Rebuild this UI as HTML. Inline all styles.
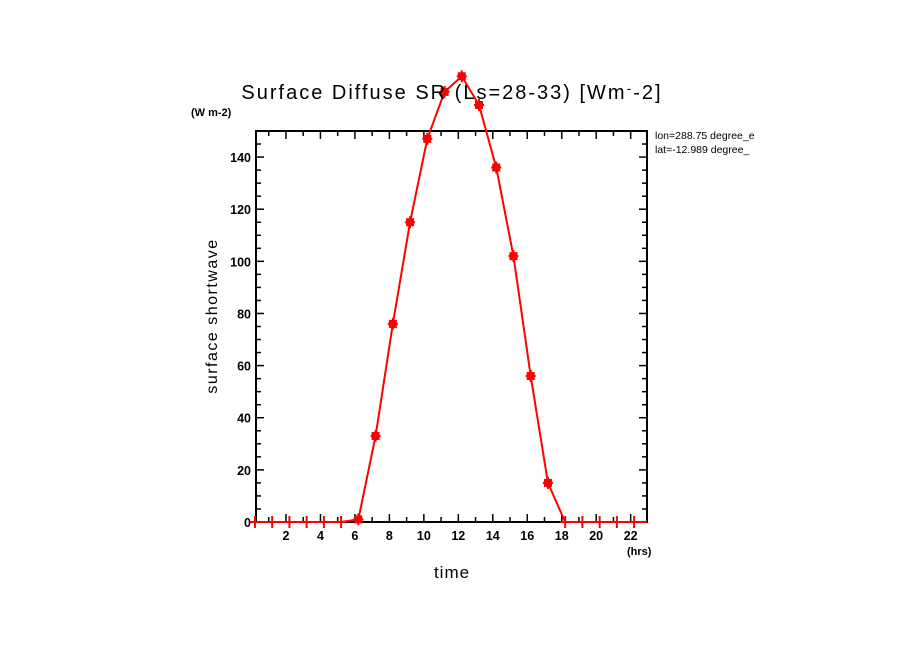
<!DOCTYPE html>
<html><head><meta charset="utf-8"><style>
body{margin:0;background:#fff}
svg{display:block;font-family:"Liberation Sans",sans-serif}
</style></head><body>
<svg width="904" height="654">
<defs><clipPath id="lc"><rect x="650" y="120" width="130" height="40"/></clipPath></defs>
<g id="axes"></g>
<g id="series"></g>
<text x="452" y="99" font-size="20" letter-spacing="2" text-anchor="middle">Surface Diffuse SR (Ls=28-33) [Wm<tspan font-size="14" dy="-6">-</tspan><tspan dy="6">-2]</tspan></text>
<text x="191" y="116" font-size="11" font-weight="bold">(W m-2)</text>
<g clip-path="url(#lc)">
<text x="655" y="139" font-size="10.5">lon=288.75 degree_e</text>
<text x="655" y="153" font-size="10.5">lat=-12.989 degree_</text>
</g>
<text x="627" y="555" font-size="11" font-weight="bold">(hrs)</text>
<text x="452" y="578" font-size="17" letter-spacing="1" text-anchor="middle">time</text>
<text transform="translate(217,316) rotate(-90)" font-size="16" letter-spacing="1.5" text-anchor="middle">surface shortwave</text>
</svg>
<script>
const hours=[0.2,1.2,2.2,3.2,4.2,5.2,6.2,7.2,8.2,9.2,10.2,11.2,12.2,13.2,14.2,15.2,16.2,17.2,18.2,19.2,20.2,21.2,22.2];
const values=[0,0,0,0,0,0,1,33,76,115,147,165,171,160,136,102,56,15,0,0,0,0,0];
const xTickLabels=[2,4,6,8,10,12,14,16,18,20,22];
const yTickLabels=[0,20,40,60,80,100,120,140];
const NS="http://www.w3.org/2000/svg";
const L=256,R=647,T=131,B=522;
const X=h=>251.5+17.235*h;
const Y=v=>B-(v/150)*(B-T);
function mk(t,a,p){const e=document.createElementNS(NS,t);for(const k in a)e.setAttribute(k,a[k]);p.appendChild(e);return e;}
const ax=document.getElementById('axes');
const fr=mk('rect',{x:L,y:T,width:R-L,height:B-T,fill:'none',stroke:'#000','stroke-width':2},ax);


for(let h=1;h<=22;h++){const big=h%2==0;const len=big?8:5;
 mk('line',{x1:X(h),x2:X(h),y1:B,y2:B-len,stroke:'#000','stroke-width':1.5},ax);
 mk('line',{x1:X(h),x2:X(h),y1:T,y2:T+len,stroke:'#000','stroke-width':1.5},ax);}
xTickLabels.forEach(h=>{const t=mk('text',{x:X(h),y:B+18,'font-size':12.5,'font-weight':'bold','text-anchor':'middle'},ax);t.textContent=h;
 
 });
for(let v=5;v<150;v+=5){const big=v%20==0;const len=big?8:5;
 mk('line',{x1:L,x2:L+len,y1:Y(v),y2:Y(v),stroke:'#000','stroke-width':1.5},ax);
 mk('line',{x1:R,x2:R-len,y1:Y(v),y2:Y(v),stroke:'#000','stroke-width':1.5},ax);}
yTickLabels.forEach(v=>{const t=mk('text',{x:L-5,y:Y(v)+5,'font-size':12.5,'font-weight':'bold','text-anchor':'end'},ax);t.textContent=v;
 
 });
const sg=document.getElementById('series');
const pts=hours.map((h,i)=>X(h)+','+Y(values[i]));
const pl=mk('polyline',{points:[L+','+B].concat(pts).concat([R+','+B]).join(' '),fill:'none',stroke:'#f00','stroke-width':2},sg);


hours.forEach((h,i)=>{const x=X(h),y=Y(values[i]);
 const g=mk('g',{},sg);
 
 
 if(values[i]>0){mk('rect',{x:x-4,y:y-4,width:8,height:8,fill:'#f00'},g);}
 mk('line',{x1:x,x2:x,y1:y-6,y2:y+6,stroke:'#f00','stroke-width':2},g);
 mk('line',{x1:x-5,x2:x+5,y1:y,y2:y,stroke:'#f00','stroke-width':2},g);});
</script>
</body></html>
